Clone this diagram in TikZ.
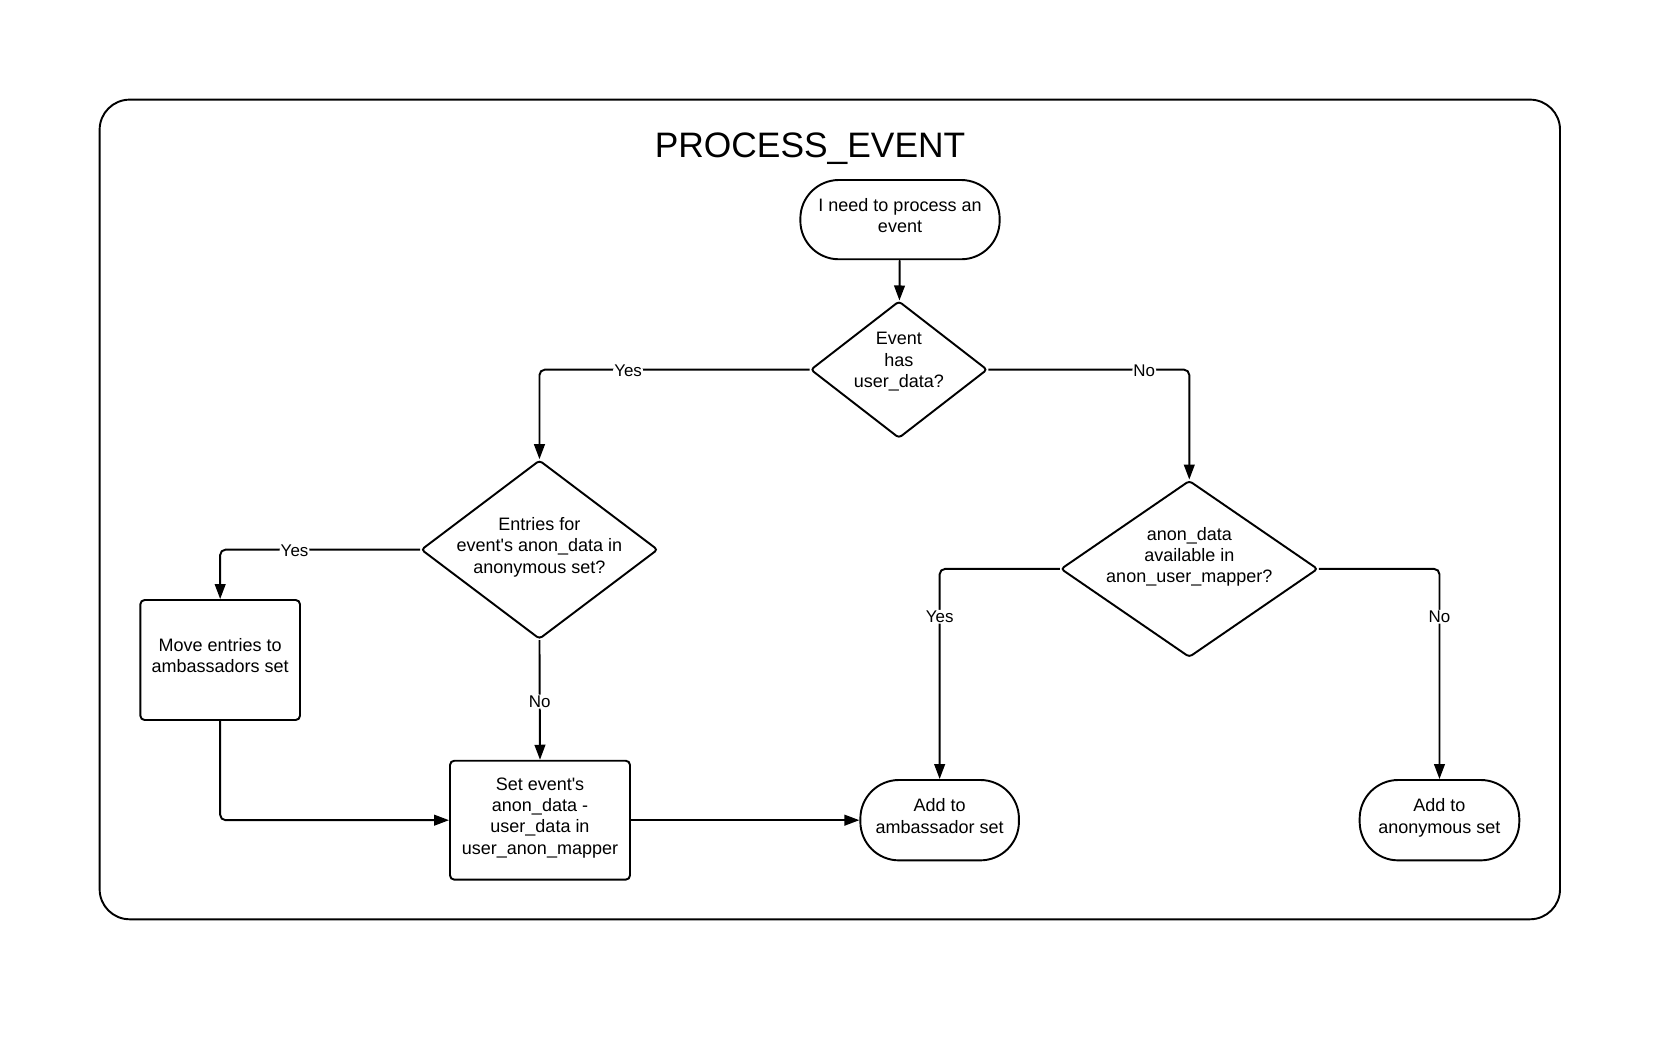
\documentclass[tikz,border=0pt]{standalone}
\usepackage{fontspec}
\setmainfont{Liberation Sans}
\usetikzlibrary{arrows.meta}
\usetikzlibrary{shapes.geometric}
\usetikzlibrary{positioning}

\begin{document}
\begin{tikzpicture}[x=1pt, y=-1pt, line width=1.8pt, >={Triangle[length=14pt,width=10pt]}]
      \tikzstyle{txt}=[font=\fontsize{16.8}{19.8}\selectfont, align=center, text depth=8pt]
      \tikzstyle{term}=[draw, txt, rectangle, rounded corners=36pt, minimum height=74pt]
      \tikzstyle{proc}=[draw, txt, rectangle, rounded corners=4pt]
      \tikzstyle{dec}=[draw, diamond, rounded corners=3pt, inner sep=0pt]
      \tikzstyle{lbl}=[fill=white, inner sep=1pt, yshift=-1.5pt, font=\fontsize{15.8}{18}\selectfont]
      \tikzstyle{flow}=[->, rounded corners=5pt]
\useasboundingbox (0,0) rectangle (1568,984);
\draw[rounded corners=28pt] (93,93) rectangle (1456,858);
    \node[font=\fontsize{33}{40}\selectfont] (title) at (756,139) {PROCESS\_EVENT};
    \node[term, minimum width=186pt] (start) at (840,205) {I need to process an\\event};
    \node[dec, minimum width=165pt, minimum height=128pt,
          label={[txt, yshift=5pt]center:Event\\has\\user\_data?}] (hasuser) at (839,345) {};
    \node[dec, minimum width=221pt, minimum height=167pt,
          label={[txt]center:Entries for\\event{\textquotesingle}s anon\_data in\\anonymous set?}] (entries) at (503.5,513) {};
    \node[dec, minimum width=240pt, minimum height=165pt,
          label={[txt, yshift=9pt]center:anon\_data\\available in\\anon\_user\_mapper?}] (avail) at (1110,531) {};
    \node[proc, minimum width=149pt, minimum height=112pt] (move) at (205.5,616) {Move entries to\\ambassadors set};
    \node[proc, minimum width=168pt, minimum height=111pt] (setmap) at (504,765.5) {Set event{\textquotesingle}s\\anon\_data -\\user\_data in\\user\_anon\_mapper};
    \node[term, minimum width=148pt, minimum height=75pt] (ambset) at (877,765.5) {Add to\\ambassador set};
    \node[term, minimum width=149pt, minimum height=75pt] (anonset) at (1343.5,765.5) {Add to\\anonymous set};
\draw[flow] (start) -- (hasuser);
\draw[flow] (hasuser.west) -| node[lbl, pos=.336] {Yes} (entries.north);
\draw[flow] (hasuser.east) -| node[lbl, pos=.388] {No} (avail.north);
\draw[flow] (entries.west) -| node[lbl, pos=.314] {Yes} (move.north);
\draw[flow] (entries.south) -- node[lbl] {No} (setmap.north);
\draw[flow] (move.south) |- (setmap.west);
\draw[flow] (setmap.east) -- (ambset.west);
\draw[flow] (avail.west) -| node[lbl, pos=.61] {Yes} (ambset.north);
\draw[flow] (avail.east) -| node[lbl, pos=.61] {No} (anonset.north);
   \end{tikzpicture}
\end{document}
